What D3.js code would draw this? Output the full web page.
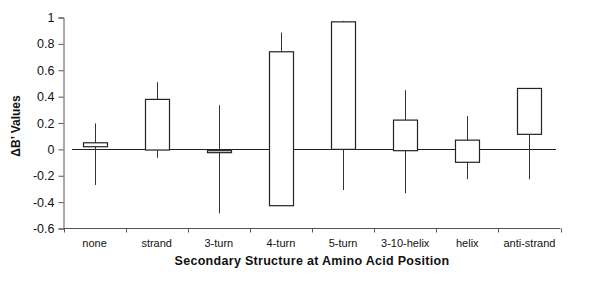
<!DOCTYPE html>
<html>
<head>
<meta charset="utf-8">
<script src="https://cdn.jsdelivr.net/npm/d3@7"></script>
<style>
  body { margin: 0; background: #fff; }
  text { font-family: Arial, "Liberation Sans", sans-serif; }
</style>
</head>
<body>
<div id="chart"></div>
<script>
// data
var categories = ["none", "strand", "3-turn", "4-turn", "5-turn", "3-10-helix", "helix", "anti-strand"];
var boxLow  = [0.02, -0.005, -0.025, -0.427, 0.0, -0.01, -0.098, 0.114];
var boxHigh = [0.05, 0.379, -0.01, 0.74, 0.967, 0.222, 0.07, 0.462];
var whiskLow  = [-0.27, -0.064, -0.485, -0.427, -0.308, -0.333, -0.227, -0.227];
var whiskHigh = [0.197, 0.51, 0.335, 0.886, 0.974, 0.449, 0.252, 0.462];
var yTicks = [-0.6, -0.4, -0.2, 0, 0.2, 0.4, 0.6, 0.8, 1];

var w = 600, h = 285;
var plotLeft = 63.5, plotRight = 560.5, plotTop = 17.5, plotBottom = 228.5;

var svg = d3.select('#chart').append('svg')
  .attr('width', w)
  .attr('height', h);

var x = d3.scaleBand().domain(categories).range([plotLeft, plotRight]).padding(0);
var y = d3.scaleLinear().domain([-0.6, 1]).range([plotBottom, plotTop]);

var rows = categories.map(function(c, i) {
  return { name: c, lo: boxLow[i], hi: boxHigh[i], wlo: whiskLow[i], whi: whiskHigh[i] };
});

// zero line
svg.append('line')
  .attr('x1', 72).attr('x2', 556)
  .attr('y1', Math.round(y(0)) + 0.5).attr('y2', Math.round(y(0)) + 0.5)
  .attr('stroke', '#222').attr('stroke-width', 1);

var barW = 24;
var g = svg.selectAll('.cat')
  .data(rows)
  .enter().append('g')
    .attr('class', 'cat');

// whiskers
g.append('line')
  .attr('x1', function(d) { return Math.round(x(d.name) + x.bandwidth() / 2) + 0.5; })
  .attr('x2', function(d) { return Math.round(x(d.name) + x.bandwidth() / 2) + 0.5; })
  .attr('y1', function(d) { return y(d.whi); })
  .attr('y2', function(d) { return y(d.wlo); })
  .attr('stroke', '#333').attr('stroke-width', 1);

// boxes
g.append('rect')
  .attr('x', function(d) { return Math.round(x(d.name) + x.bandwidth() / 2 - barW / 2) + 0.5; })
  .attr('y', function(d) { return y(d.hi); })
  .attr('width', barW)
  .attr('height', function(d) { return Math.max(1, y(d.lo) - y(d.hi)); })
  .attr('fill', '#fff')
  .attr('stroke', '#222').attr('stroke-width', 1.2);

// y axis (plain hyphen for negatives, like the original)
var yAxis = d3.axisLeft(y).tickValues(yTicks).tickSize(5).tickPadding(4)
  .tickFormat(function(d) { return String(+d.toFixed(1)); });
var ya = svg.append('g')
  .attr('transform', 'translate(' + plotLeft + ',0)')
  .call(yAxis);
ya.select('.domain').attr('stroke', '#555');
ya.selectAll('.tick line').attr('stroke', '#555');
ya.selectAll('.tick text').attr('font-size', 12.5).attr('fill', '#111')
  .attr('font-family', 'Arial, "Liberation Sans", sans-serif');

// x axis with boundary ticks
var xa = svg.append('g').attr('transform', 'translate(0,' + plotBottom + ')');
xa.append('line').attr('x1', plotLeft).attr('x2', plotRight).attr('y1', 0).attr('y2', 0)
  .attr('stroke', '#555');
var bounds = categories.map(function(c) { return x(c); }).concat([plotRight]);
xa.selectAll('.bt').data(bounds).enter().append('line')
  .attr('x1', function(d) { return Math.round(d) + 0.5; })
  .attr('x2', function(d) { return Math.round(d) + 0.5; })
  .attr('y1', 0).attr('y2', 4)
  .attr('stroke', '#555');
xa.selectAll('.lbl').data(categories).enter().append('text')
  .attr('x', function(d) { return x(d) + x.bandwidth() / 2; })
  .attr('y', 18.5)
  .attr('text-anchor', 'middle')
  .attr('font-size', 11)
  .attr('fill', '#111')
  .text(function(d) { return d; });

// axis titles
svg.append('text')
  .attr('x', (plotLeft + plotRight) / 2)
  .attr('y', 265)
  .attr('text-anchor', 'middle')
  .attr('font-size', 12.5)
  .attr('font-weight', 'bold')
  .attr('letter-spacing', 0.3)
  .attr('fill', '#111')
  .text('Secondary Structure at Amino Acid Position');

svg.append('text')
  .attr('transform', 'translate(20,126) rotate(-90)')
  .attr('text-anchor', 'middle')
  .attr('font-size', 12)
  .attr('font-weight', 'bold')
  .attr('fill', '#111')
  .text('\u0394B\u2019 Values');
</script>
</body>
</html>
